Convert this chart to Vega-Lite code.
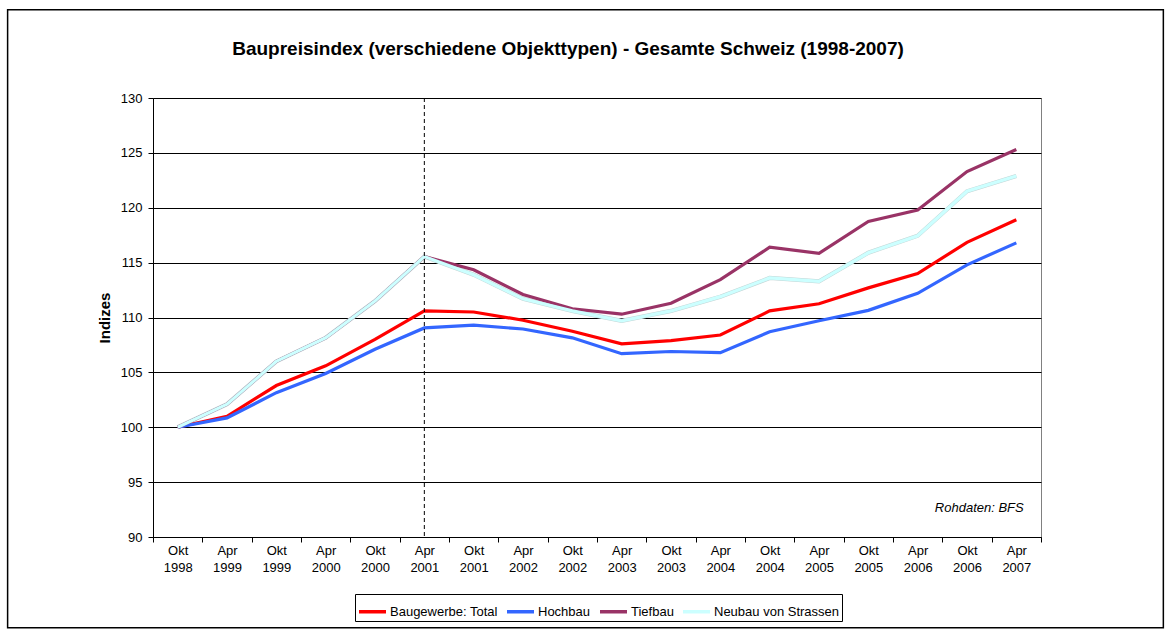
{
  "$schema": "https://vega.github.io/schema/vega-lite/v6.json",
  "width": 888,
  "height": 439,
  "autosize": {"type": "none"},
  "padding": {"left": 153, "top": 98, "right": 130, "bottom": 100},
  "background": "white",
  "title": {
    "text": "Baupreisindex (verschiedene Objekttypen) - Gesamte Schweiz (1998-2007)",
    "font": "Liberation Sans",
    "fontSize": 19,
    "fontWeight": "bold",
    "color": "black",
    "anchor": "middle",
    "frame": "group",
    "dx": -29,
    "offset": -50
  },
  "config": {
    "font": "Liberation Sans",
    "view": {"stroke": "#808080", "strokeWidth": 1},
    "axis": {
      "labelFont": "Liberation Sans",
      "labelFontSize": 13,
      "labelColor": "black",
      "domainColor": "black",
      "tickColor": "black",
      "tickSize": 5,
      "titleColor": "black"
    }
  },
  "layer": [
    {
      "data": {"values": [{}]},
      "mark": {"type": "rect", "filled": false, "stroke": "black", "strokeWidth": 1.5},
      "encoding": {
        "x": {"datum": "Okt 1998", "type": "nominal", "bandPosition": -2.947},
        "x2": {"datum": "Apr 2007", "bandPosition": 3.48},
        "y": {"datum": 138.05, "type": "quantitative"},
        "y2": {"datum": 81.74}
      }
    },
    {
      "data": {
        "values": [
          {"Zeitpunkt": "Okt 1998", "Baugewerbe: Total": 100.0, "Hochbau": 100.0, "Tiefbau": 100.0, "Neubau von Strassen": 100.0},
          {"Zeitpunkt": "Apr 1999", "Baugewerbe: Total": 101.0, "Hochbau": 100.85, "Tiefbau": 102.1, "Neubau von Strassen": 102.1},
          {"Zeitpunkt": "Okt 1999", "Baugewerbe: Total": 103.8, "Hochbau": 103.15, "Tiefbau": 106.0, "Neubau von Strassen": 106.0},
          {"Zeitpunkt": "Apr 2000", "Baugewerbe: Total": 105.6, "Hochbau": 104.9, "Tiefbau": 108.15, "Neubau von Strassen": 108.15},
          {"Zeitpunkt": "Okt 2000", "Baugewerbe: Total": 108.0, "Hochbau": 107.1, "Tiefbau": 111.5, "Neubau von Strassen": 111.5},
          {"Zeitpunkt": "Apr 2001", "Baugewerbe: Total": 110.6, "Hochbau": 109.05, "Tiefbau": 115.55, "Neubau von Strassen": 115.55},
          {"Zeitpunkt": "Okt 2001", "Baugewerbe: Total": 110.5, "Hochbau": 109.3, "Tiefbau": 114.35, "Neubau von Strassen": 113.9},
          {"Zeitpunkt": "Apr 2002", "Baugewerbe: Total": 109.75, "Hochbau": 108.95, "Tiefbau": 112.1, "Neubau von Strassen": 111.7},
          {"Zeitpunkt": "Okt 2002", "Baugewerbe: Total": 108.75, "Hochbau": 108.15, "Tiefbau": 110.8, "Neubau von Strassen": 110.6},
          {"Zeitpunkt": "Apr 2003", "Baugewerbe: Total": 107.6, "Hochbau": 106.7, "Tiefbau": 110.3, "Neubau von Strassen": 109.7},
          {"Zeitpunkt": "Okt 2003", "Baugewerbe: Total": 107.9, "Hochbau": 106.9, "Tiefbau": 111.3, "Neubau von Strassen": 110.6},
          {"Zeitpunkt": "Apr 2004", "Baugewerbe: Total": 108.4, "Hochbau": 106.8, "Tiefbau": 113.45, "Neubau von Strassen": 111.9},
          {"Zeitpunkt": "Okt 2004", "Baugewerbe: Total": 110.6, "Hochbau": 108.7, "Tiefbau": 116.4, "Neubau von Strassen": 113.6},
          {"Zeitpunkt": "Apr 2005", "Baugewerbe: Total": 111.25, "Hochbau": 109.7, "Tiefbau": 115.85, "Neubau von Strassen": 113.3},
          {"Zeitpunkt": "Okt 2005", "Baugewerbe: Total": 112.7, "Hochbau": 110.65, "Tiefbau": 118.75, "Neubau von Strassen": 115.9},
          {"Zeitpunkt": "Apr 2006", "Baugewerbe: Total": 114.0, "Hochbau": 112.2, "Tiefbau": 119.8, "Neubau von Strassen": 117.45},
          {"Zeitpunkt": "Okt 2006", "Baugewerbe: Total": 116.85, "Hochbau": 114.8, "Tiefbau": 123.3, "Neubau von Strassen": 121.5},
          {"Zeitpunkt": "Apr 2007", "Baugewerbe: Total": 118.9, "Hochbau": 116.8, "Tiefbau": 125.3, "Neubau von Strassen": 122.9}
        ]
      },
      "transform": [
        {"fold": ["Baugewerbe: Total", "Hochbau", "Tiefbau", "Neubau von Strassen"], "as": ["Serie", "Index"]}
      ],
      "encoding": {
        "x": {
          "field": "Zeitpunkt",
          "type": "nominal",
          "bandPosition": 0.5,
          "scale": {
            "type": "band",
            "paddingInner": 0,
            "paddingOuter": 0,
            "domain": ["Okt 1998", "Apr 1999", "Okt 1999", "Apr 2000", "Okt 2000", "Apr 2001", "Okt 2001", "Apr 2002", "Okt 2002", "Apr 2003", "Okt 2003", "Apr 2004", "Okt 2004", "Apr 2005", "Okt 2005", "Apr 2006", "Okt 2006", "Apr 2007"]
          },
          "axis": {
            "title": null,
            "bandPosition": 0.5,
            "tickBand": "extent",
            "labelExpr": "isValid(datum.value) ? split(datum.value, ' ') : ''",
            "labelAngle": 0,
            "labelAlign": "center",
            "labelPadding": 8,
            "labelLineHeight": 17,
            "labelOverlap": false,
            "grid": false
          }
        },
        "y": {
          "field": "Index",
          "type": "quantitative",
          "scale": {"domain": [90, 130], "nice": false, "zero": false},
          "axis": {
            "values": [90, 95, 100, 105, 110, 115, 120, 125, 130],
            "grid": true,
            "gridColor": "#000000",
            "gridWidth": 1,
            "labelPadding": 6,
            "title": "Indizes",
            "titleFont": "Liberation Sans",
            "titleFontSize": 15,
            "titleFontWeight": "bold",
            "titlePadding": 8
          }
        }
      },
      "layer": [
        {
          "transform": [{"filter": "datum.Serie === 'Neubau von Strassen'"}],
          "mark": {"type": "line", "strokeWidth": 4.2, "color": "#c3d6d6"}
        },
        {
          "mark": {"type": "line", "strokeWidth": 3.2},
          "encoding": {
            "color": {
              "field": "Serie",
              "type": "nominal",
              "scale": {
                "domain": ["Baugewerbe: Total", "Hochbau", "Tiefbau", "Neubau von Strassen"],
                "range": ["#FF0000", "#3366FF", "#993366", "#CCFFFF"]
              },
              "legend": {
                "orient": "none",
                "legendX": 202,
                "legendY": 496,
                "direction": "horizontal",
                "title": null,
                "symbolType": "stroke",
                "symbolStrokeWidth": 3.5,
                "symbolSize": 729,
                "labelFont": "Liberation Sans",
                "labelFontSize": 13,
                "labelColor": "black",
                "labelOffset": 2,
                "columnPadding": 2,
                "strokeColor": "black",
                "fillColor": "white",
                "padding": 2
              }
            }
          }
        }
      ]
    },
    {
      "data": {"values": [{}]},
      "mark": {"type": "rule", "color": "black", "strokeWidth": 1, "strokeDash": [4, 3]},
      "encoding": {
        "x": {"datum": "Apr 2001", "type": "nominal", "bandPosition": 0.5}
      }
    },
    {
      "data": {"values": [{}]},
      "mark": {"type": "text", "text": "Rohdaten: BFS", "font": "Liberation Sans", "fontSize": 13, "fontStyle": "italic", "align": "right", "baseline": "middle", "color": "black"},
      "encoding": {
        "x": {"datum": "Apr 2007", "type": "nominal", "bandPosition": 0.65},
        "y": {"datum": 92.66, "type": "quantitative"}
      }
    }
  ]
}
